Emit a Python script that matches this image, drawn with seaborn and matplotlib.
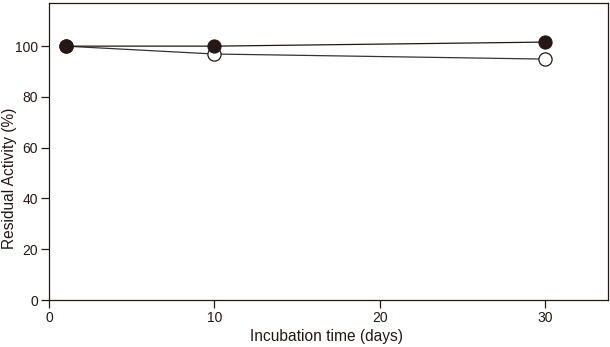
import matplotlib
matplotlib.use("Agg")
import matplotlib.pyplot as plt
import seaborn as sns
import pandas as pd

days = [1, 10, 30]
filled_activity = [100, 100, 101.6]
open_activity = [100, 96.9, 94.9]
x_ticks = [0, 10, 20, 30]
y_ticks = [0, 20, 40, 60, 80, 100]

df = pd.DataFrame({
    "days": days * 2,
    "activity": filled_activity + open_activity,
    "series": ["filled"] * len(days) + ["open"] * len(days),
})

sns.set_style("ticks")
plt.rcParams["font.family"] = ["Liberation Sans", "DejaVu Sans"]

fig = plt.figure(figsize=(6.10, 3.47), dpi=100)
ax = fig.add_axes([0.0803, 0.1354, 0.9164, 0.856])

ink = "#231815"
sns.lineplot(data=df[df.series == "open"], x="days", y="activity", ax=ax,
             color="#333333", linewidth=0.9, marker="o", markersize=9.5,
             markerfacecolor="white", markeredgecolor=ink, markeredgewidth=0.9)
sns.lineplot(data=df[df.series == "filled"], x="days", y="activity", ax=ax,
             color=ink, linewidth=0.9, marker="o", markersize=9.5,
             markerfacecolor=ink, markeredgecolor=ink)

ax.set_xlim(0, 33.8)
ax.set_ylim(0, 117)
ax.set_xticks(x_ticks)
ax.set_yticks(y_ticks)
ax.tick_params(direction="out", length=6, width=0.9, colors=ink, labelsize=10, pad=2)
for s in ax.spines.values():
    s.set_visible(True)
    s.set_color(ink)
    s.set_linewidth(0.9)
ax.set_xlabel("Incubation time (days)", fontsize=11.2, color=ink)
ax.set_ylabel("Residual Activity (%)", fontsize=11.2, color=ink)
ax.xaxis.set_label_coords(0.497, -0.098)
ax.yaxis.set_label_coords(-0.057, 0.41)

fig.savefig("out.png", dpi=100)
